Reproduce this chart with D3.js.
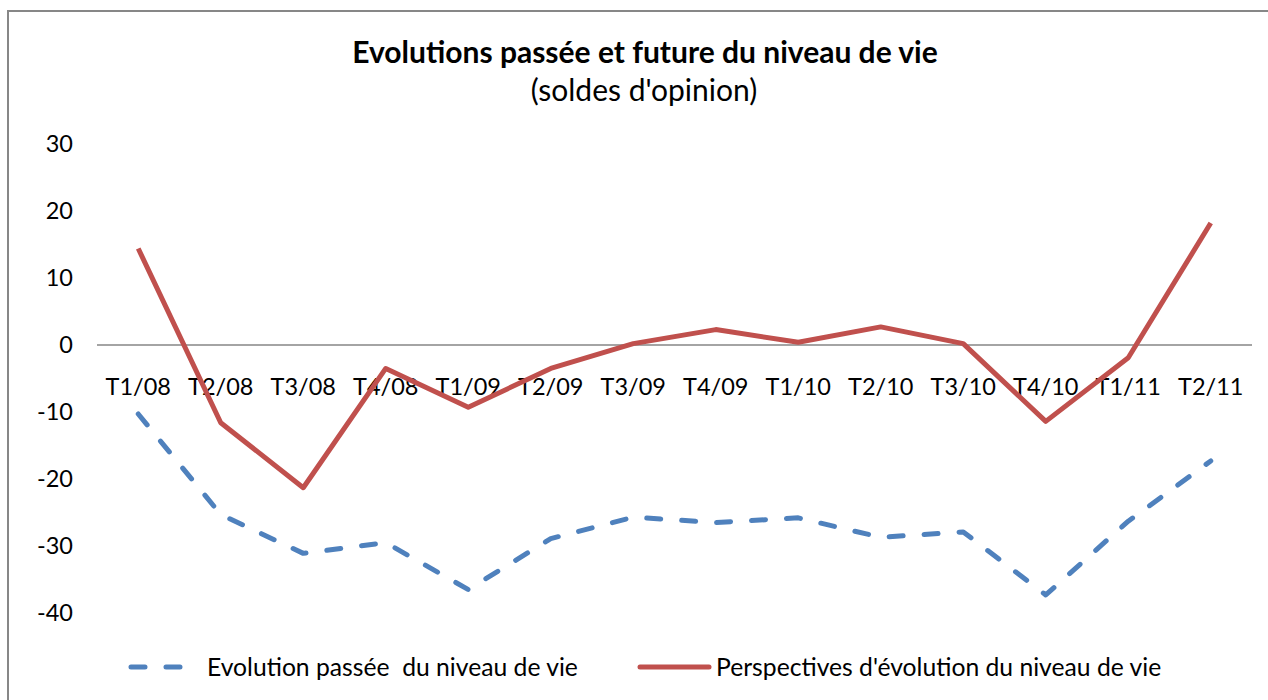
<!DOCTYPE html>
<html>
<head>
<meta charset="utf-8">
<script src="https://cdn.jsdelivr.net/npm/d3@7"></script>
<style>
  body { margin: 0; background: #fff; }
  text { font-family: Lato, "Open Sans", sans-serif; fill: #000; }
</style>
</head>
<body>
<div id="chart"></div>
<script>
// data
const categories = ["T1/08","T2/08","T3/08","T4/08","T1/09","T2/09","T3/09","T4/09","T1/10","T2/10","T3/10","T4/10","T1/11","T2/11"];
const passee = [-10.3, -25.3, -31.1, -29.5, -36.5, -28.9, -25.7, -26.5, -25.8, -28.7, -27.9, -37.3, -26.3, -17.3];
const perspectives = [14.4, -11.6, -21.3, -3.5, -9.3, -3.5, 0.2, 2.3, 0.4, 2.7, 0.2, -11.4, -1.9, 18.2];
const yTicks = [30, 20, 10, 0, -10, -20, -30, -40];
const seriesNames = ["Evolution passée  du niveau de vie", "Perspectives d'évolution du niveau de vie"];

const W = 1268, H = 700;
const blue = "#4f81bd", red = "#c0504d";

const svg = d3.select("#chart").append("svg")
    .attr("width", W).attr("height", H);

// chart border (cut by the picture edge on the right and bottom)
svg.append("path")
    .attr("d", "M8," + H + " V11 H" + W)
    .attr("fill", "none").attr("stroke", "#878787").attr("stroke-width", 2);

const x = d3.scalePoint().domain(categories).range([97, 1252]).padding(0.5);
const y = d3.scaleLinear().domain([-40, 30]).range([613, 144]);

// title
svg.append("text").attr("x", 645).attr("y", 63).attr("text-anchor", "middle")
    .style("font-size", "30px").style("font-weight", "bold")
    .text("Evolutions passée et future du niveau de vie");
svg.append("text").attr("x", 644).attr("y", 101).attr("text-anchor", "middle")
    .style("font-size", "30px")
    .text("(soldes d'opinion)");

// y labels
svg.append("g").selectAll("text").data(yTicks).enter().append("text")
    .attr("x", 73).attr("y", d => y(d)).attr("dy", "0.35em")
    .attr("text-anchor", "end").style("font-size", "23.5px")
    .text(d => d);

// zero axis line
svg.append("line")
    .attr("x1", 97).attr("x2", 1252).attr("y1", y(0)).attr("y2", y(0))
    .attr("stroke", "#868686").attr("stroke-width", 1.5);

// category labels
svg.append("g").selectAll("text").data(categories).enter().append("text")
    .attr("x", d => x(d)).attr("y", 395)
    .attr("text-anchor", "middle").style("font-size", "23.5px")
    .text(d => d);

const line = d3.line().x((d, i) => x(categories[i])).y(d => y(d));

svg.append("path").datum(passee)
    .attr("d", line).attr("fill", "none")
    .attr("stroke", blue).attr("stroke-width", 5)
    .attr("stroke-linecap", "round").attr("stroke-linejoin", "round")
    .attr("stroke-dasharray", "14,21");

svg.append("path").datum(perspectives)
    .attr("d", line).attr("fill", "none")
    .attr("stroke", red).attr("stroke-width", 5)
    .attr("stroke-linejoin", "round");

// legend
const ly = 667;
svg.append("line").attr("x1", 131).attr("x2", 192).attr("y1", ly).attr("y2", ly)
    .attr("stroke", blue).attr("stroke-width", 5)
    .attr("stroke-linecap", "round").attr("stroke-dasharray", "14,21");
svg.append("text").attr("x", 207).attr("y", ly).attr("dy", "0.35em")
    .style("font-size", "24.7px").style("white-space", "pre").attr("xml:space", "preserve")
    .text(seriesNames[0]);
svg.append("line").attr("x1", 640).attr("x2", 709).attr("y1", ly).attr("y2", ly)
    .attr("stroke", red).attr("stroke-width", 5).attr("stroke-linecap", "round");
svg.append("text").attr("x", 716).attr("y", ly).attr("dy", "0.35em")
    .style("font-size", "24.7px")
    .text(seriesNames[1]);
</script>
</body>
</html>
